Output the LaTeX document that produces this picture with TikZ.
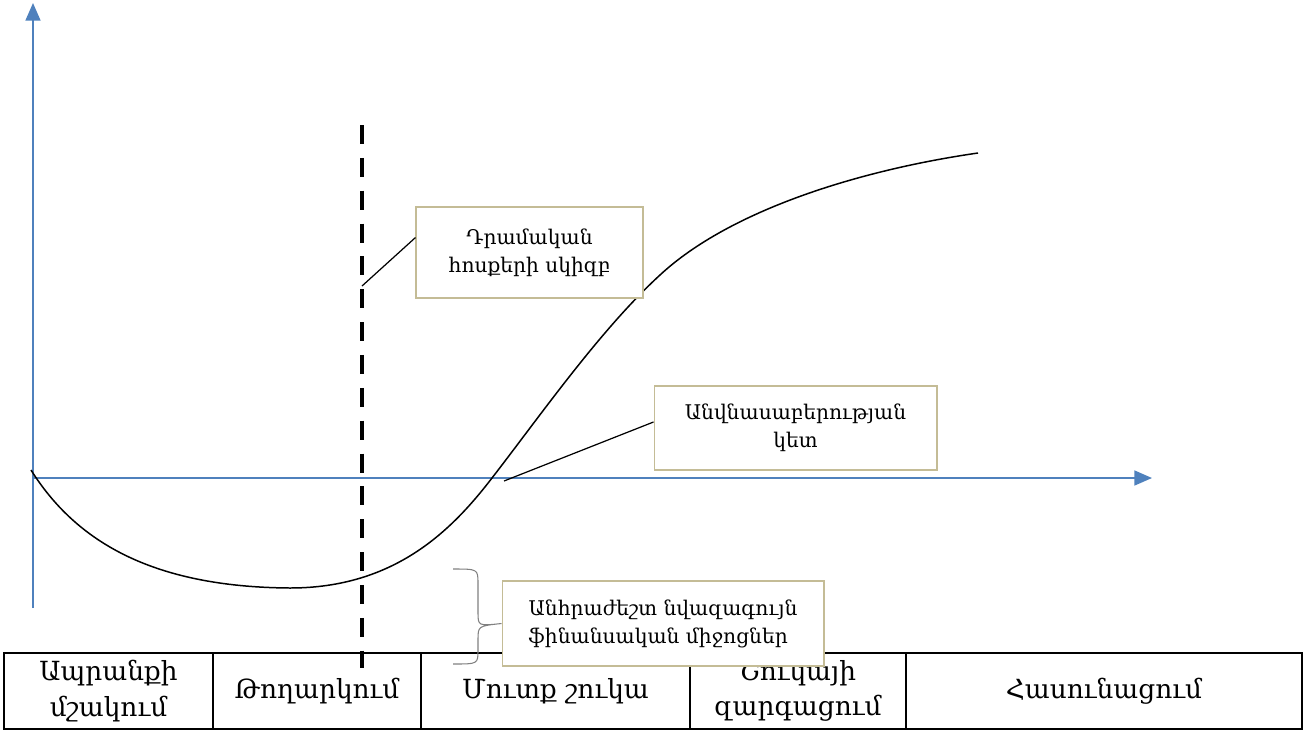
\documentclass[tikz,border=0pt]{standalone}
\usepackage{fontspec}
\setmainfont{DejaVu Serif}
\usetikzlibrary{arrows.meta}
\definecolor{axisblue}{RGB}{79,129,189}
\definecolor{boxtan}{RGB}{196,188,150}
\begin{document}
\begin{tikzpicture}[
    x=0.02cm, y=-0.02cm,
    axis/.style = {axisblue, line width=0.9pt, -{Triangle[length=10pt,width=8.5pt]}},
    note/.style = {draw=boxtan, fill=white, line width=0.6pt, align=center,
        font=\fontsize{11.5}{16}\selectfont, inner sep=0pt},
    cell/.style = {align=center, font=\fontsize{15}{20}\selectfont}
     ]
  \useasboundingbox (0,0) rectangle (1306,731);
  % axes
  \draw[axis] (33,608) -- (33,3);
  \draw[axis] (33,478) -- (1152,478);
  % curve
  \draw[line width=0.85pt] (31,470) .. controls (75,540) and (150,587) .. (290,588)
    .. controls (395,588) and (452,530) .. (492,478)
    .. controls (540,416) and (600,330) .. (660,275)
    .. controls (730,210) and (860,170) .. (978,153);
  % moment of cash inflow
  \draw[line width=2.8pt, dash pattern=on 10.8pt off 7.9pt] (362,125) -- (362,668);
  \coordinate (dashpt) at (362,286);
  \coordinate (zeropt) at (504,481);
  % table of stages
  \foreach \a/\b/\txt in {4/213/{Ապրանքի\\մշակում}, 213/421/Թողարկում, 421/690/{Մուտք շուկա},
      690/906/{Շուկայի\\զարգացում}, 906/1302/Հասունացում} {
    \draw[line width=1pt] (\a,653) rectangle (\b,729);
    \node[cell] (stage\a) at ({(\a+\b)/2},691) {\txt};
  }
  \draw[line width=1.6pt] (4,653) -- (1302,653);
  % notes
  \node[note, minimum width=4.54cm, minimum height=1.82cm] (cash) at (529.5,252.5)
    {Դրամական\\հոսքերի սկիզբ};
  \node[note, minimum width=5.66cm, minimum height=1.68cm] (breakeven) at (795.5,428)
    {Անվնասաբերության\\կետ};
  \node[note, align=left, minimum width=6.44cm, minimum height=1.7cm] (funds) at (663,623.5)
    {Անհրաժեշտ նվազագույն\\ֆինանսական միջոցներ};
  \draw[line width=0.7pt] ([yshift=0.3cm]cash.west) -- (dashpt);
  \draw[line width=0.7pt] ([yshift=0.12cm]breakeven.west) -- (zeropt);
  % brace
  \draw[gray, line width=0.6pt] (453,569) .. controls (478,569) .. (478,584) -- (478,612)
    .. controls (478,626) .. (funds.west) .. controls (478,626) .. (478,640) -- (478,650)
    .. controls (478,664) .. (453,664);
\end{tikzpicture}
\end{document}
